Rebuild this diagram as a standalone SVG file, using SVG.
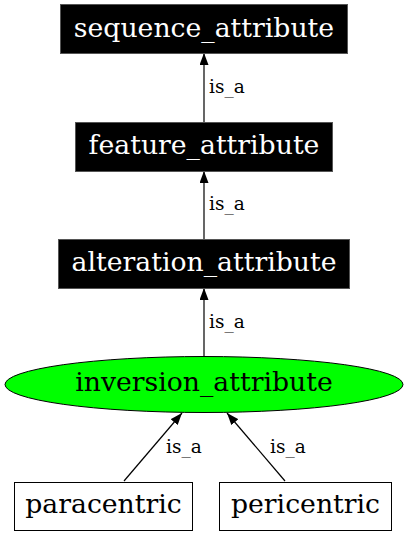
<svg xmlns="http://www.w3.org/2000/svg" width="408" height="536" viewBox="0 0 408 536">
<style>
.dark rect{fill:#000;stroke:#555;stroke-width:1}
.light rect{fill:#fff;stroke:#000;stroke-width:1}
.nt{font-family:"DejaVu Serif",serif;font-size:26.7px;text-anchor:middle}
.dark .nt{fill:#fff}
.el{font-family:"DejaVu Serif",serif;font-size:18.5px}
.edge line{stroke:#000;stroke-width:1.2}
</style>
<defs>
<marker id="ah" viewBox="0 0 12 9" refX="12" refY="4.5" markerWidth="12" markerHeight="9" markerUnits="userSpaceOnUse" orient="auto">
<path d="M0,0 L12,4.5 L0,9 Z" fill="#000"/>
</marker>
</defs>
<g id="edges" class="edge">
<line x1="204" y1="122" x2="204" y2="53" marker-end="url(#ah)"/>
<text class="el" x="209" y="93">is_a</text>
<line x1="204" y1="239" x2="204" y2="171" marker-end="url(#ah)"/>
<text class="el" x="209" y="210">is_a</text>
<line x1="204" y1="356" x2="204" y2="288" marker-end="url(#ah)"/>
<text class="el" x="209" y="328">is_a</text>
<line x1="124" y1="481" x2="182" y2="413" marker-end="url(#ah)"/>
<text class="el" x="166" y="453">is_a</text>
<line x1="285" y1="481" x2="227" y2="413" marker-end="url(#ah)"/>
<text class="el" x="270" y="453">is_a</text>
</g>
<g id="sequence_attribute" class="dark">
<rect x="60.5" y="4.5" width="287" height="49"/>
<text class="nt" x="204" y="37">sequence_attribute</text>
</g>
<g id="feature_attribute" class="dark">
<rect x="75.5" y="122.5" width="257" height="49"/>
<text class="nt" x="204" y="154">feature_attribute</text>
</g>
<g id="alteration_attribute" class="dark">
<rect x="58.5" y="239.5" width="291" height="49"/>
<text class="nt" x="204" y="271">alteration_attribute</text>
</g>
<g id="inversion_attribute">
<ellipse cx="204" cy="384.5" rx="199" ry="28" fill="#00ff00" stroke="#000" stroke-width="1"/>
<text class="nt" x="204" y="391">inversion_attribute</text>
</g>
<g id="paracentric" class="light">
<rect x="14.5" y="482.5" width="178" height="48"/>
<text class="nt" x="103.5" y="513">paracentric</text>
</g>
<g id="pericentric" class="light">
<rect x="219.5" y="482.5" width="172" height="48"/>
<text class="nt" x="305.5" y="513">pericentric</text>
</g>
</svg>
